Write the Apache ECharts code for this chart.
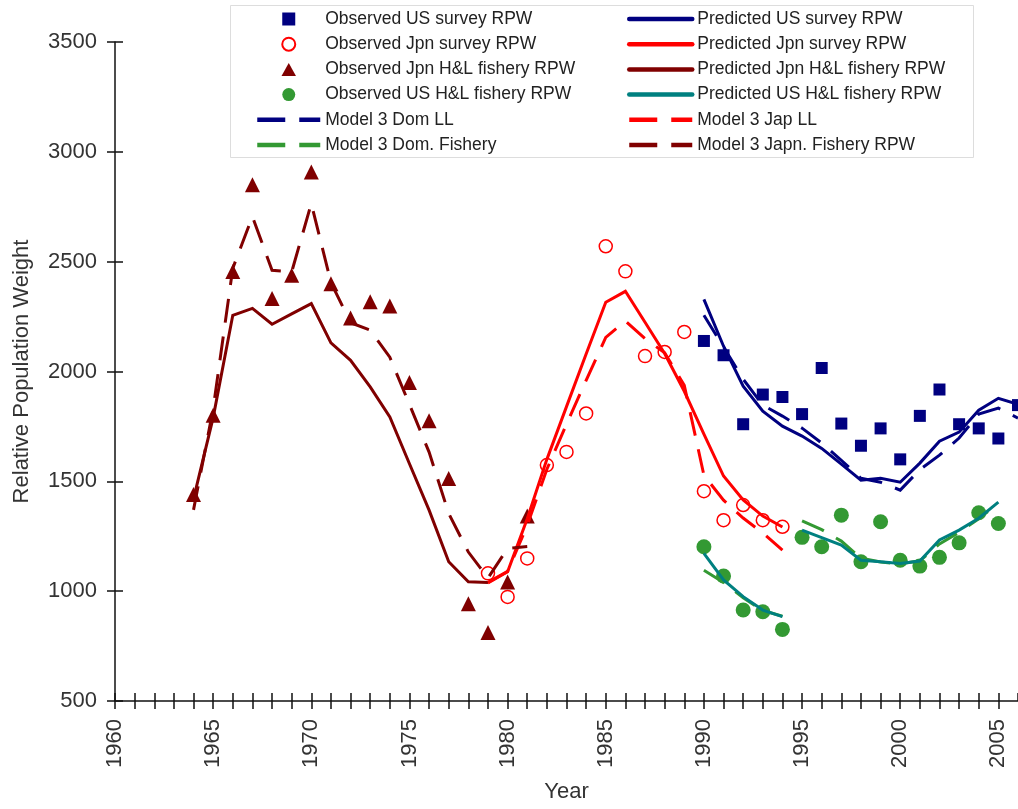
<!DOCTYPE html>
<html><head><meta charset="utf-8">
<script src="https://cdn.jsdelivr.net/npm/echarts@6/dist/echarts.min.js"></script>
<style>html,body{margin:0;padding:0;background:#fff}#c{width:1018px;height:809px}</style>
</head><body><div id="c"></div>
<script>
// ---------------- data ----------------
const yTicks = [500, 1000, 1500, 2000, 2500, 3000, 3500];
const xLabelYears = [1960, 1965, 1970, 1975, 1980, 1985, 1990, 1995, 2000, 2005];

// Observed US survey RPW (navy squares)
const obsUSSurveyYears = [1990,1991,1992,1993,1994,1995,1996,1997,1998,1999,2000,2001,2002,2003,2004,2005,2006];
const obsUSSurvey      = [2139,2074,1760,1895,1884,1806,2016,1763,1662,1741,1600,1798,1918,1760,1741,1695,1847];

// Observed Jpn survey RPW (red hollow circles)
const obsJpnSurveyYears = [1979,1980,1981,1982,1983,1984,1985,1986,1987,1988,1989,1990,1991,1992,1993,1994];
const obsJpnSurvey      = [1081, 974,1149,1574,1634,1809,2570,2456,2070,2089,2180,1455,1323,1392,1323,1293];

// Observed Jpn H&L fishery RPW (dark red triangles)
const obsJpnHLYears = [1964,1965,1966,1967,1968,1969,1970,1971,1972,1973,1974,1975,1976,1977,1978,1979,1980,1981];
const obsJpnHL      = [1440,1801,2455,2850,2332,2438,2908,2400,2243,2318,2298,1950,1776,1513, 943, 812,1042,1342];

// Observed US H&L fishery RPW (green circles)
const obsUSHLYears = [1990,1991,1992,1993,1994,1995,1996,1997,1998,1999,2000,2001,2002,2003,2004,2005];
const obsUSHL      = [1202,1069, 914, 906, 826,1245,1202,1346,1134,1316,1141,1114,1154,1220,1357,1308];

// Predicted US survey RPW
const predUSSurveyYears = [1990,1991,1992,1993,1994,1995,1996,1997,1998,1999,2000,2001,2002,2003,2004,2005,2006];
const predUSSurvey      = [2328,2115,1933,1819,1751,1706,1650,1578,1505,1514,1496,1583,1683,1724,1824,1878,1851];

// Predicted Jpn survey RPW
const predJpnSurveyYears = [1979,1980,1981,1982,1983,1984,1985,1986,1987,1988,1989,1990,1991,1992,1993,1994];
const predJpnSurvey      = [1037,1088,1330,1600,1840,2080,2315,2365,2224,2082,1910,1715,1524,1415,1342,1292];

// Predicted Jpn H&L fishery RPW
const predJpnHLYears = [1964,1965,1966,1967,1968,1969,1970,1971,1972,1973,1974,1975,1976,1977,1978,1979];
const predJpnHL      = [1420,1790,2256,2287,2215,2262,2309,2130,2051,1930,1793,1580,1369,1134,1043,1040];

// Predicted US H&L fishery RPW (two segments)
const predUSHLYearsA = [1990,1991,1992,1993,1994];
const predUSHLA      = [1172,1051, 975, 914, 884];
const predUSHLYearsB = [1995,1996,1997,1998,1999,2000,2001,2002,2003,2004,2005];
const predUSHLB      = [1278,1244,1210,1141,1134,1126,1137,1233,1278,1332,1405];

// Model 3 Dom LL
const m3DomLLYears = [1990,1991,1992,1993,1994,1995,1996,1997,1998,1999,2000,2001,2002,2003,2004,2005,2006];
const m3DomLL      = [2256,2111,1965,1847,1797,1742,1674,1596,1514,1496,1460,1553,1619,1697,1806,1833,1788];

// Model 3 Jap LL
const m3JapLLYears = [1979,1980,1981,1982,1983,1984,1985,1986,1987,1988,1989,1990,1991,1992,1993,1994];
const m3JapLL      = [1040,1090,1300,1555,1760,1960,2155,2230,2150,2085,1937,1528,1414,1333,1265,1187];

// Model 3 Dom. Fishery (two segments)
const m3DomFishYearsA = [1990,1991,1992,1993,1994];
const m3DomFishA      = [1095,1040, 970, 912, 886];
const m3DomFishYearsB = [1995,1996,1997,1998,1999,2000,2001,2002,2003,2004,2005];
const m3DomFishB      = [1320,1280,1228,1150,1133,1124,1138,1215,1268,1330,1400];

// Model 3 Japn. Fishery RPW
const m3JapFishYears = [1964,1965,1966,1967,1968,1969,1970,1971,1972,1973,1974,1975,1976,1977,1978,1979,1980,1981];
const m3JapFish      = [1370,1830,2470,2705,2461,2453,2765,2405,2222,2188,2065,1850,1633,1354,1178,1060,1195,1203];

// ---------------- helpers ----------------
const FONT = '"Liberation Sans", Arial, sans-serif';
const pairs = (xs, ys) => xs.map((x, i) => [x, ys[i]]);
const gap = (a, b) => a.concat([[null, null]], b);

const NAVY = '#000080', RED = '#ff0000', DRED = '#800000', TEAL = '#008080', GREEN = '#339933';
const DASH = [24, 14];

function scatter(name, data, symbol, size, itemStyle) {
  return { name, type: 'scatter', data, symbol, symbolSize: size,
    itemStyle: Object.assign({ opacity: 1 }, itemStyle), z: 2, clip: true };
}
function line(name, data, color, dashed) {
  return {
    name, type: 'line', data, symbol: 'none', showSymbol: false, connectNulls: false,
    lineStyle: { color, width: 3, type: dashed ? DASH : 'solid', cap: 'butt', join: 'miter' },
    itemStyle: { color }, z: 3, clip: true
  };
}

const series = [
  scatter('Observed US survey RPW', pairs(obsUSSurveyYears, obsUSSurvey), 'rect', 12, { color: NAVY }),
  scatter('Observed Jpn survey RPW', pairs(obsJpnSurveyYears, obsJpnSurvey), 'circle', 13, { color: '#fff', borderColor: RED, borderWidth: 1.5 }),
  scatter('Observed Jpn H&L fishery RPW', pairs(obsJpnHLYears, obsJpnHL), 'triangle', 15, { color: DRED }),
  scatter('Observed US H&L fishery RPW', pairs(obsUSHLYears, obsUSHL), 'circle', 15, { color: GREEN }),
  line('Predicted US survey RPW', pairs(predUSSurveyYears, predUSSurvey), NAVY, false),
  line('Predicted Jpn survey RPW', pairs(predJpnSurveyYears, predJpnSurvey), RED, false),
  line('Predicted Jpn H&L fishery RPW', pairs(predJpnHLYears, predJpnHL), DRED, false),
  line('Predicted US H&L fishery RPW', gap(pairs(predUSHLYearsA, predUSHLA), pairs(predUSHLYearsB, predUSHLB)), TEAL, false),
  line('Model 3 Dom LL', pairs(m3DomLLYears, m3DomLL), NAVY, true),
  line('Model 3 Jap LL', pairs(m3JapLLYears, m3JapLL), RED, true),
  line('Model 3 Dom. Fishery', gap(pairs(m3DomFishYearsA, m3DomFishA), pairs(m3DomFishYearsB, m3DomFishB)), GREEN, true),
  line('Model 3 Japn. Fishery RPW', pairs(m3JapFishYears, m3JapFish), DRED, true)
];
// draw US H&L predicted above Dom. Fishery dashed
series[7].z = 4;

const legendText = { fontFamily: FONT, fontSize: 17.5, color: '#222', lineHeight: 18 };
const hideDot = { color: 'rgba(0,0,0,0)', borderWidth: 0, opacity: 0 };
const dashedLegend = { type: [28, 14], width: 4.5, cap: 'butt' };
const solidLegend = { width: 4.5, cap: 'round' };
const SQUARE = 'path://M0,0L10,0L10,10L0,10Z';
const TRIANGLE = 'path://M5,0L10,9L0,9Z';

const leftLegendData = [
  { name: 'Observed US survey RPW', icon: SQUARE, itemStyle: { color: NAVY, opacity: 1 } },
  { name: 'Observed Jpn survey RPW' },
  { name: 'Observed Jpn H&L fishery RPW', icon: TRIANGLE, itemStyle: { color: DRED, opacity: 1 } },
  { name: 'Observed US H&L fishery RPW' },
  { name: 'Model 3 Dom LL', lineStyle: dashedLegend, itemStyle: hideDot },
  { name: 'Model 3 Dom. Fishery', lineStyle: dashedLegend, itemStyle: hideDot }
];
const rightLegendData = [
  { name: 'Predicted US survey RPW', lineStyle: solidLegend, itemStyle: hideDot },
  { name: 'Predicted Jpn survey RPW', lineStyle: solidLegend, itemStyle: hideDot },
  { name: 'Predicted Jpn H&L fishery RPW', lineStyle: solidLegend, itemStyle: hideDot },
  { name: 'Predicted US H&L fishery RPW', lineStyle: solidLegend, itemStyle: hideDot },
  { name: 'Model 3 Jap LL', lineStyle: dashedLegend, itemStyle: hideDot },
  { name: 'Model 3 Japn. Fishery RPW', lineStyle: dashedLegend, itemStyle: hideDot }
];

const axisLineStyle = { color: '#111', width: 1.5 };
const X_MIN = 1960, X_MAX = 2006;

const legendCommon = { orient: 'vertical', top: 10, itemWidth: 63, itemHeight: 13, itemGap: 7.2,
  textStyle: legendText, selectedMode: false, padding: 0, symbolKeepAspect: true };

const option = {
  animation: false,
  backgroundColor: '#fff',
  textStyle: { fontFamily: FONT },
  grid: { left: 115, top: 42, width: 906, height: 659, containLabel: false },
  graphic: [{
    type: 'rect', left: 230, top: 5, z: -10, silent: true,
    shape: { width: 743, height: 152 },
    style: { fill: '#fff', stroke: '#dddddd', lineWidth: 1 }
  }],
  legend: [
    Object.assign({ left: 255, data: leftLegendData }, legendCommon),
    Object.assign({ left: 627, data: rightLegendData }, legendCommon)
  ],
  xAxis: [
    { type: 'value', position: 'bottom', min: X_MIN, max: X_MAX, interval: 1,
      name: 'Year', nameLocation: 'middle', nameGap: 80,
      nameTextStyle: { fontFamily: FONT, fontSize: 22, color: '#333' },
      axisLine: { show: true, onZero: false, lineStyle: axisLineStyle },
      axisTick: { show: true, inside: false, length: 8, lineStyle: axisLineStyle },
      axisLabel: { show: true, rotate: 90, margin: 18, fontFamily: FONT, fontSize: 22, color: '#333',
        showMaxLabel: false,
        formatter: v => (xLabelYears.indexOf(Math.round(v)) >= 0 && Math.abs(v - Math.round(v)) < 1e-6) ? String(Math.round(v)) : '' },
      splitLine: { show: false } },
    { type: 'value', position: 'bottom', min: X_MIN, max: X_MAX, interval: 1,
      axisLine: { show: false, onZero: false },
      axisTick: { show: true, inside: true, length: 8, lineStyle: axisLineStyle },
      axisLabel: { show: false }, splitLine: { show: false } }
  ],
  yAxis: [
    { type: 'value', position: 'left', min: yTicks[0], max: yTicks[yTicks.length - 1], interval: 500,
      name: 'Relative Population Weight', nameLocation: 'middle', nameGap: 82, nameRotate: 90,
      nameTextStyle: { fontFamily: FONT, fontSize: 22, color: '#333' },
      axisLine: { show: true, onZero: false, lineStyle: axisLineStyle },
      axisTick: { show: true, inside: false, length: 8, lineStyle: axisLineStyle },
      axisLabel: { margin: 18, fontFamily: FONT, fontSize: 22, color: '#333',
        formatter: v => (yTicks.indexOf(v) >= 0 ? String(v) : '') },
      splitLine: { show: false } },
    { type: 'value', position: 'left', min: yTicks[0], max: yTicks[yTicks.length - 1], interval: 500,
      axisLine: { show: false, onZero: false },
      axisTick: { show: true, inside: true, length: 8, lineStyle: axisLineStyle },
      axisLabel: { show: false }, splitLine: { show: false } }
  ],
  series
};

const chart = echarts.init(document.getElementById('c'), null, { renderer: 'canvas' });
chart.setOption(option);
</script>
</body></html>
